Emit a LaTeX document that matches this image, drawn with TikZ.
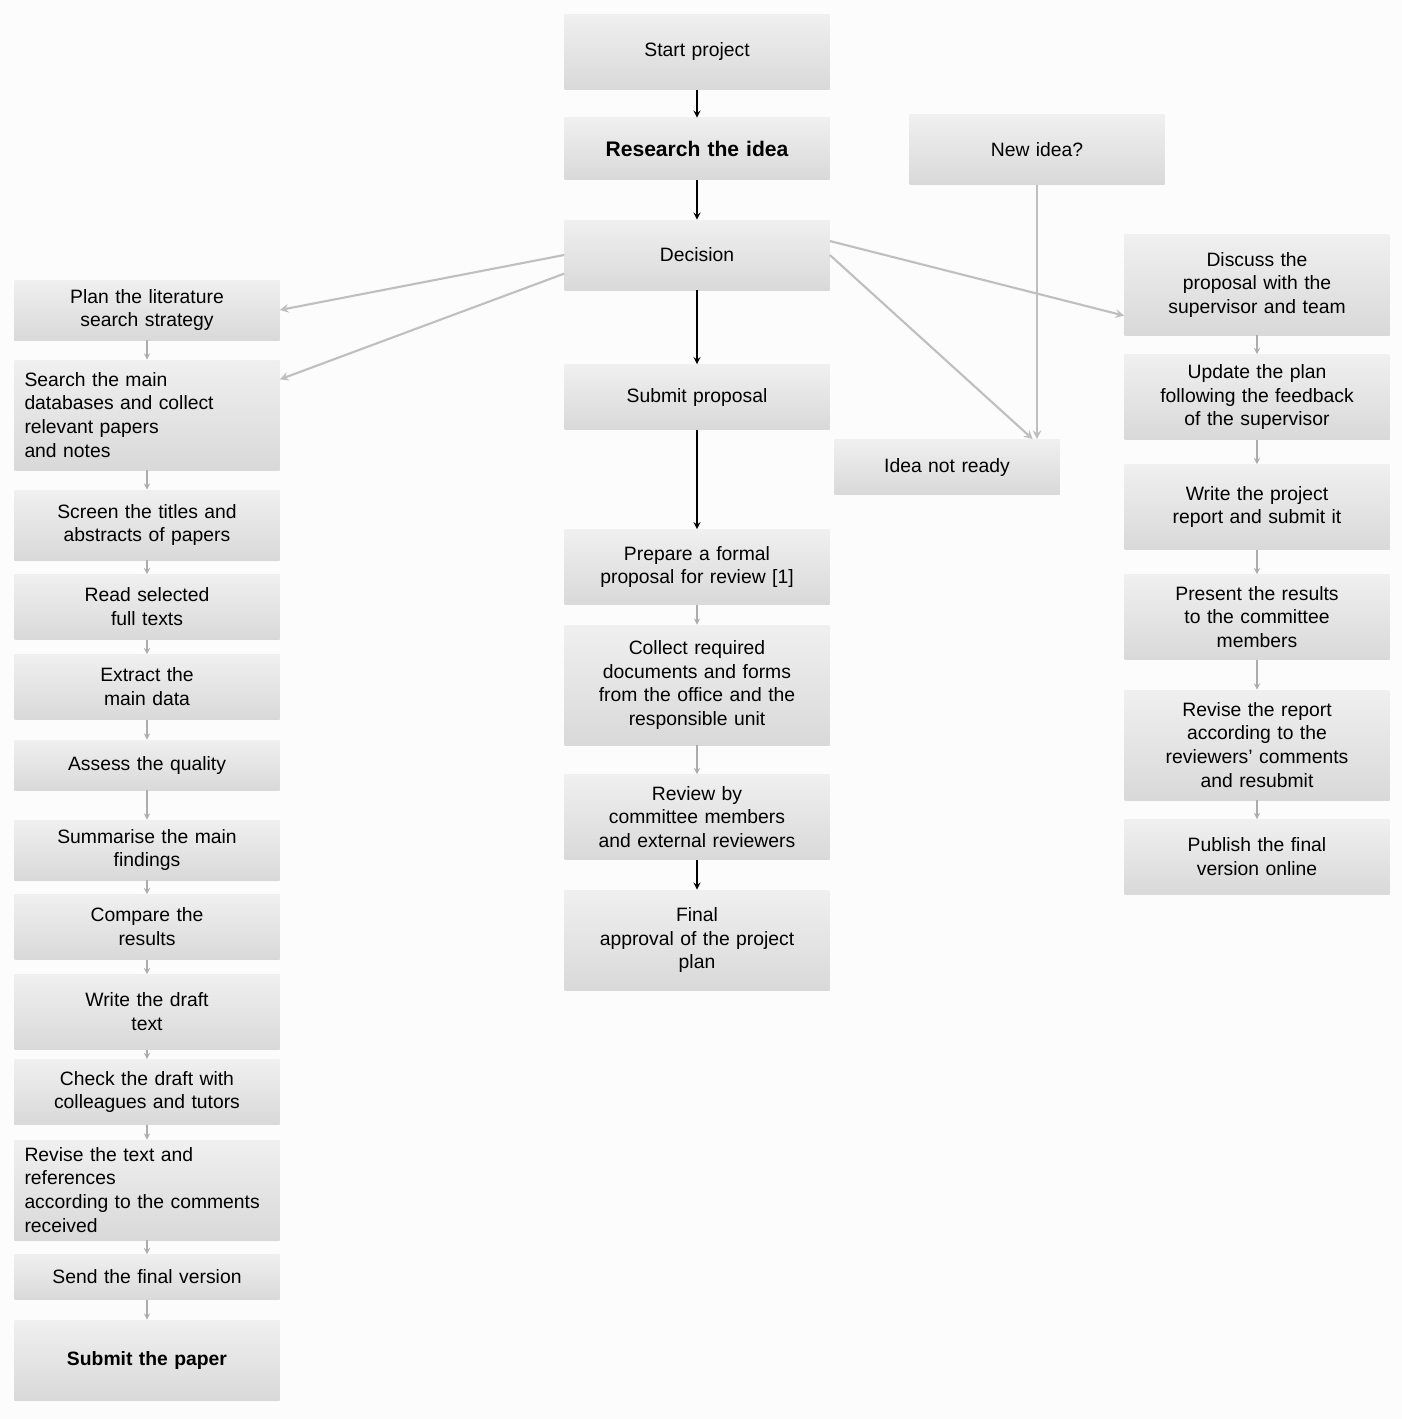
\documentclass[tikz,border=0pt]{standalone}
\usepackage{fontspec}
\setmainfont{Liberation Sans}
\usetikzlibrary{shapes.geometric, arrows}
\tikzstyle{box} = [rectangle, minimum width=5.3cm, text width=4.9cm, align=center, inner sep=2pt, font=\fontsize{11}{13.6}\selectfont, top color=gray!12, bottom color=gray!30]
\tikzstyle{lbox} = [box, align=left]
\tikzstyle{arrow} = [thick,->,>=stealth]
\tikzstyle{step arrow} = [semithick,->,>=stealth,draw=gray!65]
\tikzstyle{link} = [very thick,->,>=stealth,draw=gray!50]

\begin{document}
\begin{tikzpicture}
    \fill [gray!2] (0,0) rectangle (28.04,-28.38);
    \useasboundingbox (0,0) rectangle (28.04,-28.38);
    % centre column
    \node [box, minimum height=1.5cm] at (13.94,-1.04) (start) {Start project};
    \node [box, minimum height=1.24cm, font=\fontsize{12}{14}\selectfont\bfseries] at (13.94,-2.98) (research) {Research the idea};
    \node [box, minimum height=1.4cm] at (13.94,-5.1) (decision) {Decision};
    \node [box, minimum height=1.3cm] at (13.94,-7.94) (submit) {Submit proposal};
    \node [box, minimum height=1.5cm] at (13.94,-11.34) (prepare) {Prepare a formal\\ proposal for review [1]};
    \node [box, minimum height=2.4cm] at (13.94,-13.7) (collect) {Collect required\\ documents and forms\\ from the office and the\\ responsible unit};
    \node [box, minimum height=1.7cm] at (13.94,-16.34) (review) {Review by\\ committee members\\ and external reviewers};
    \node [box, minimum height=2.0cm] at (13.94,-18.8) (approval) {Final\\ approval of the project\\ plan};
    % idea check
    \node [box, minimum width=5.1cm, minimum height=1.4cm] at (20.74,-3.0) (newidea) {New idea?};
    \node [box, minimum width=4.5cm, text width=4.2cm, minimum height=1.1cm] at (18.94,-9.34) (notready) {Idea not ready};
    % right column
    \node [box, minimum height=2.0cm] at (25.14,-5.7) (discuss) {Discuss the\\ proposal with the\\ supervisor and team};
    \node [box, minimum height=1.7cm] at (25.14,-7.94) (update) {Update the plan\\ following the feedback\\ of the supervisor};
    \node [box, minimum height=1.7cm] at (25.14,-10.14) (report) {Write the project\\ report and submit it};
    \node [box, minimum height=1.7cm] at (25.14,-12.34) (present) {Present the results\\ to the committee\\ members};
    \node [box, minimum height=2.2cm] at (25.14,-14.9) (revise) {Revise the report\\ according to the\\ reviewers' comments\\ and resubmit};
    \node [box, minimum height=1.5cm] at (25.14,-17.14) (publish) {Publish the final\\ version online};
    % left column
    \node [box, minimum height=1.2cm] at (2.94,-6.2) (plan) {Plan the literature\\ search strategy};
    \node [lbox, minimum height=2.2cm] at (2.94,-8.3) (search) {Search the main\\ databases and collect\\ relevant papers\\ and notes};
    \node [box, minimum height=1.4cm] at (2.94,-10.5) (screen) {Screen the titles and\\ abstracts of papers};
    \node [box, minimum height=1.3cm] at (2.94,-12.14) (read) {Read selected\\ full texts};
    \node [box, minimum height=1.3cm] at (2.94,-13.74) (extract) {Extract the\\ main data};
    \node [box, minimum height=1.0cm] at (2.94,-15.3) (assess) {Assess the quality};
    \node [box, minimum height=1.2cm] at (2.94,-17.0) (summarise) {Summarise the main\\ findings};
    \node [box, minimum height=1.3cm] at (2.94,-18.54) (compare) {Compare the\\ results};
    \node [box, minimum height=1.5cm] at (2.94,-20.24) (draft) {Write the draft\\ text};
    \node [box, minimum height=1.3cm] at (2.94,-21.84) (check) {Check the draft with\\ colleagues and tutors};
    \node [lbox, minimum height=2.0cm] at (2.94,-23.8) (revisetext) {Revise the text and\\ references\\ according to the comments\\ received};
    \node [box, minimum height=0.9cm] at (2.94,-25.54) (send) {Send the final version};
    \node [box, minimum height=1.6cm, font=\fontsize{11}{13.6}\selectfont\bfseries] at (2.94,-27.2) (paper) {Submit the paper};
    % centre arrows
    \draw [arrow] (start) -- (research);
    \draw [arrow] (research) -- (decision);
    \draw [arrow] (decision) -- (submit);
    \draw [arrow] (submit) -- (prepare);
    \draw [step arrow] (prepare) -- (collect);
    \draw [step arrow] (collect) -- (review);
    \draw [arrow] (review) -- (approval);
    % links from the decision
    \draw [link] (decision.west) -- (plan.east);
    \draw [link] (decision.188) -- (search.15);
    \draw [link] (decision.6) -- (discuss.193);
    \draw [link] (decision.east) -- (notready.18);
    \draw [link] (newidea) -- (newidea |- notready.north);
    % right arrows
    \draw [step arrow] (discuss) -- (update);
    \draw [step arrow] (update) -- (report);
    \draw [step arrow] (report) -- (present);
    \draw [step arrow] (present) -- (revise);
    \draw [step arrow] (revise) -- (publish);
    % left arrows
    \draw [step arrow] (plan) -- (search);
    \draw [step arrow] (search) -- (screen);
    \draw [step arrow] (screen) -- (read);
    \draw [step arrow] (read) -- (extract);
    \draw [step arrow] (extract) -- (assess);
    \draw [step arrow] (assess) -- (summarise);
    \draw [step arrow] (summarise) -- (compare);
    \draw [step arrow] (compare) -- (draft);
    \draw [step arrow] (draft) -- (check);
    \draw [step arrow] (check) -- (revisetext);
    \draw [step arrow] (revisetext) -- (send);
    \draw [step arrow] (send) -- (paper);
\end{tikzpicture}
\end{document}
